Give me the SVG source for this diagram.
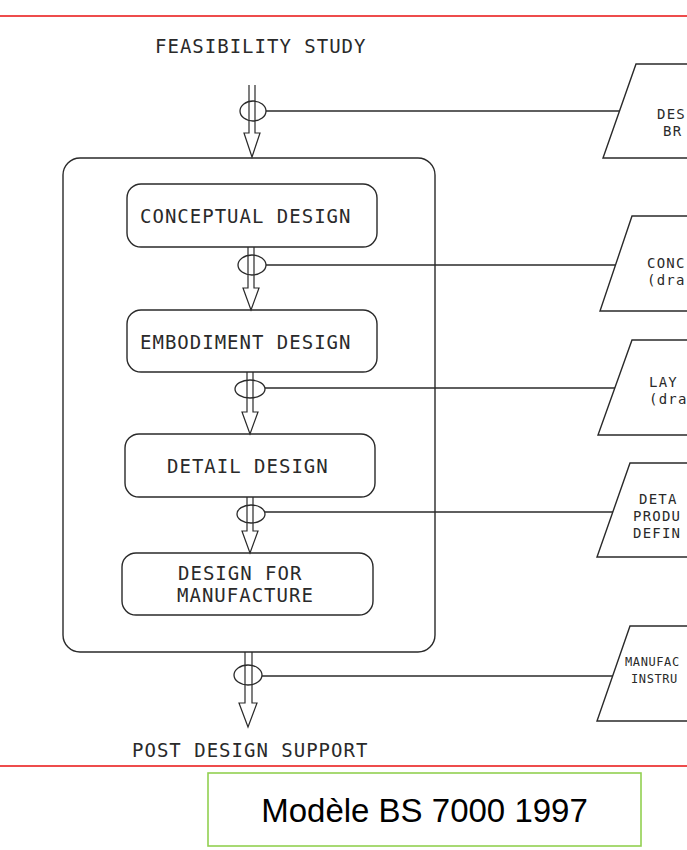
<svg xmlns="http://www.w3.org/2000/svg" width="687" height="850" viewBox="0 0 687 850">
<defs>
<style>
.bg{fill:#fff}
.red{stroke:#e81010;stroke-width:1.6;fill:none}
.box{fill:none;stroke:#2a2a2a;stroke-width:1.4}
.ln{fill:none;stroke:#2a2a2a;stroke-width:1.3}
.arr{fill:none;stroke:#2a2a2a;stroke-width:1.2;stroke-linejoin:miter}
.t{font-family:"DejaVu Sans Mono","Liberation Mono",monospace;font-size:19px;letter-spacing:1px;fill:#2a2a2a}
.tr{font-family:"DejaVu Sans Mono","Liberation Mono",monospace;font-size:14px;letter-spacing:1.2px;fill:#2a2a2a}
.ts{font-family:"DejaVu Sans Mono","Liberation Mono",monospace;font-size:12px;letter-spacing:0.6px;fill:#2a2a2a}
.cap{font-family:"Liberation Sans",Arial,sans-serif;font-size:33px;fill:#000}
</style>
</defs>
<rect class="bg" x="0" y="0" width="687" height="850"/>
<line class="red" x1="0" y1="16" x2="687" y2="16"/>
<line class="red" x1="0" y1="766" x2="687" y2="766"/>

<g id="feasibility">
<text class="t" x="155" y="53">FEASIBILITY STUDY</text>
</g>

<g id="outer">
<rect class="box" x="63" y="158" width="372" height="494" rx="17" ry="17"/>
</g>

<g id="conceptual">
<rect class="box" x="127" y="184" width="250" height="63" rx="14" ry="14"/>
<text class="t" x="140" y="223">CONCEPTUAL DESIGN</text>
</g>

<g id="embodiment">
<rect class="box" x="127" y="310" width="250" height="62" rx="14" ry="14"/>
<text class="t" x="140" y="349">EMBODIMENT DESIGN</text>
</g>

<g id="detail">
<rect class="box" x="125" y="434" width="250" height="63" rx="14" ry="14"/>
<text class="t" x="167" y="473">DETAIL DESIGN</text>
</g>

<g id="dfm">
<rect class="box" x="122" y="553" width="251" height="62" rx="14" ry="14"/>
<text class="t" x="178" y="580">DESIGN FOR</text>
<text class="t" x="177" y="602">MANUFACTURE</text>
</g>

<g id="post">
<text class="t" x="132" y="757">POST DESIGN SUPPORT</text>
</g>

<g id="brief">
<path class="box" d="M690 64 L636 64 L603 158 L690 158"/>
<text class="tr" x="657" y="119">DES</text>
<text class="tr" x="663" y="136">BR</text>
</g>

<g id="concept">
<path class="box" d="M690 216 L632 216 L600 311 L690 311"/>
<text class="tr" x="647" y="268">CONC</text>
<text class="tr" x="647" y="285">(dra</text>
</g>

<g id="layout">
<path class="box" d="M690 340 L632 340 L598 435 L690 435"/>
<text class="tr" x="649" y="387">LAY</text>
<text class="tr" x="649" y="404">(dra</text>
</g>

<g id="definition">
<path class="box" d="M690 463 L630 463 L597 557 L690 557"/>
<text class="tr" x="639" y="504">DETA</text>
<text class="tr" x="633" y="521">PRODU</text>
<text class="tr" x="633" y="538">DEFIN</text>
</g>

<g id="instructions">
<path class="box" d="M690 626 L630 626 L597 721 L690 721"/>
<text class="ts" x="625" y="666">MANUFAC</text>
<text class="ts" x="631" y="683">INSTRU</text>
</g>

<g id="connectors">
<path class="arr" d="M249 85 V133 H244 L252 157 L260 133 H255 V85"/>
<ellipse class="ln" cx="253" cy="111" rx="13" ry="10"/>
<line class="ln" x1="266" y1="111" x2="619" y2="111"/>

<path class="arr" d="M248 247 V288 H243 L251 310 L259 288 H254 V247"/>
<ellipse class="ln" cx="252" cy="265" rx="14" ry="10"/>
<line class="ln" x1="266" y1="265" x2="615" y2="265"/>

<path class="arr" d="M247 372 V412 H242 L250 434 L258 412 H253 V372"/>
<ellipse class="ln" cx="250" cy="389" rx="15" ry="9"/>
<line class="ln" x1="265" y1="388" x2="615" y2="388"/>

<path class="arr" d="M247 497 V531 H242 L250 553 L258 531 H253 V497"/>
<ellipse class="ln" cx="251" cy="514" rx="14" ry="9"/>
<line class="ln" x1="265" y1="512" x2="613" y2="512"/>

<path class="arr" d="M245 652 V703 H239 L248 727 L257 703 H252 V652"/>
<ellipse class="ln" cx="248" cy="675" rx="14" ry="10"/>
<line class="ln" x1="262" y1="676" x2="613" y2="676"/>
</g>

<g id="caption">
<rect x="208" y="773" width="433" height="73" fill="#fff" stroke="#92d050" stroke-width="1.6"/>
<text class="cap" x="424.5" y="822" text-anchor="middle">Modèle BS 7000 1997</text>
</g>
</svg>
